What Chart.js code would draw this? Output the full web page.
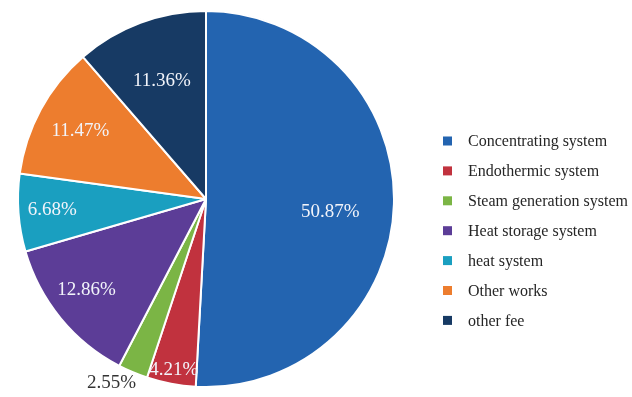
<!DOCTYPE html>
<html>
<head>
<meta charset="utf-8">
<script src="https://cdn.jsdelivr.net/npm/chart.js@4/dist/chart.umd.min.js"></script>
<style>
  html, body { margin: 0; padding: 0; background: #ffffff; }
  #wrap { width: 632px; height: 397px; position: relative; }
</style>
</head>
<body>
<div id="wrap"><canvas id="c"></canvas></div>
<script>
const categories = ["Concentrating system", "Endothermic system", "Steam generation system", "Heat storage system", "heat system", "Other works", "other fee"];
const shares = [50.87, 4.21, 2.55, 12.86, 6.68, 11.47, 11.36];
const valueLabels = ["50.87%", "4.21%", "2.55%", "12.86%", "6.68%", "11.47%", "11.36%"];

const colors = ["#2364b0", "#c1323e", "#7bb545", "#5c3d97", "#1a9fc0", "#ed7d2e", "#173a64"];
// label placement: fraction of radius, angular shift (degrees)
const labelPlace = [[0.665, 4.6], [0.924, 0], [1.10, 4.3], [0.80, 2], [0.82, 0], [0.76, 0], [0.67, 0]];
const labelColors = ["#f2f4fa", "#f2f4fa", "#333333", "#f2f4fa", "#f2f4fa", "#f2f4fa", "#f2f4fa"];
const FONT = "'Liberation Serif', 'Times New Roman', serif";

const sliceLabels = {
  id: 'sliceLabels',
  afterDatasetsDraw(chart) {
    const ctx = chart.ctx;
    const meta = chart.getDatasetMeta(0);
    ctx.save();
    ctx.font = "19px " + FONT;
    ctx.textAlign = 'center';
    ctx.textBaseline = 'middle';
    meta.data.forEach((arc, i) => {
      const p = arc.getProps(['x', 'y', 'startAngle', 'endAngle', 'outerRadius'], true);
      const mid = (p.startAngle + p.endAngle) / 2 + labelPlace[i][1] * Math.PI / 180;
      const r = p.outerRadius * labelPlace[i][0];
      ctx.fillStyle = labelColors[i];
      ctx.fillText(valueLabels[i], p.x + Math.cos(mid) * r, p.y + Math.sin(mid) * r);
    });
    ctx.restore();
  }
};

const sideLegend = {
  id: 'sideLegend',
  afterDraw(chart) {
    const ctx = chart.ctx;
    const ds = chart.data.datasets[0];
    const x0 = 443, y0 = 141, step = 29.9;
    ctx.save();
    ctx.font = "16px " + FONT;
    ctx.textBaseline = 'middle';
    ctx.textAlign = 'left';
    chart.data.labels.forEach((lab, i) => {
      const y = y0 + i * step;
      ctx.fillStyle = ds.backgroundColor[i];
      ctx.fillRect(x0, y - 4.5, 9, 9);
      ctx.fillStyle = '#262626';
      ctx.fillText(lab, x0 + 25, y + 1);
    });
    ctx.restore();
  }
};

new Chart(document.getElementById('c'), {
  type: 'pie',
  data: {
    labels: categories,
    datasets: [{
      data: shares,
      backgroundColor: colors,
      borderColor: '#ffffff',
      borderWidth: 2,
      hoverOffset: 0
    }]
  },
  options: {
    responsive: true,
    maintainAspectRatio: false,
    animation: false,
    layout: { padding: { left: 16, right: 236, top: 10, bottom: 9 } },
    plugins: {
      legend: { display: false },
      tooltip: { enabled: false }
    }
  },
  plugins: [sliceLabels, sideLegend]
});
</script>
</body>
</html>
